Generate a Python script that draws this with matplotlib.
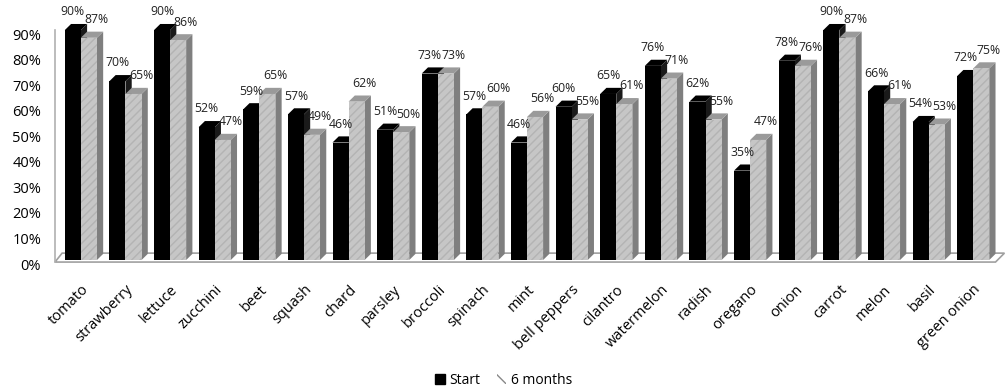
import matplotlib.pyplot as plt
import matplotlib.transforms as mtransforms
from matplotlib.patches import Polygon, Patch

plt.rcParams['font.family'] = ['Open Sans', 'DejaVu Sans']

crops = ['tomato', 'strawberry', 'lettuce', 'zucchini', 'beet', 'squash', 'chard',
         'parsley', 'broccoli', 'spinach', 'mint', 'bell peppers', 'cilantro',
         'watermelon', 'radish', 'oregano', 'onion', 'carrot', 'melon', 'basil',
         'green onion']
start = [90, 70, 90, 52, 59, 57, 46, 51, 73, 57, 46, 60, 65, 76, 62, 35, 78, 90, 66, 54, 72]
six_months = [87, 65, 86, 47, 65, 49, 62, 50, 73, 60, 56, 55, 61, 71, 55, 47, 76, 87, 61, 53, 75]
yticks = [0, 10, 20, 30, 40, 50, 60, 70, 80, 90]

fig = plt.figure(figsize=(10.07, 3.91), dpi=100)
ax = fig.add_axes([0.0546, 0.335, 0.934, 0.588])

w = 0.36
dx, dy = 0.14, 2.4
x = list(range(len(crops)))

styles = [
    dict(face='#000000', side='#1a1a1a', top='#000000', hatch=None, hc='#000000', lx=0.0),
    dict(face='#c6c6c6', side='#7f7f7f', top='#9a9a9a', hatch='////', hc='#b3b3b3', lx=0.17),
]

for i in x:
    for k, (vals, st) in enumerate([(start, styles[0]), (six_months, styles[1])]):
        z = 3 + i * 4 + k * 2
        xc = i - w / 2 + k * w
        h = vals[i]
        bar = ax.bar(xc, h, width=w, color=st['face'], edgecolor=st['hc'],
                     linewidth=0, hatch=st['hatch'], zorder=z + 1)[0]
        x0 = bar.get_x()
        x1 = x0 + bar.get_width()
        # side and top faces for the 3D look
        ax.add_patch(Polygon([(x1, 0), (x1 + dx, dy), (x1 + dx, h + dy), (x1, h)],
                             closed=True, facecolor=st['side'], edgecolor='none',
                             zorder=z, clip_on=False))
        ax.add_patch(Polygon([(x0, h), (x0 + dx, h + dy), (x1 + dx, h + dy), (x1, h)],
                             closed=True, facecolor=st['top'], edgecolor='none',
                             zorder=z, clip_on=False))
        ax.text((x0 + x1) / 2 + st['lx'], h + dy + 2.2, f'{h}%', ha='center', va='bottom',
                fontsize=8.8, color='#222222', zorder=100 + k, clip_on=False)

# floor and back wall
xl, xr = -0.58, 20.5
ax.set_xlim(xl, xr)
ax.add_patch(Polygon([(xl, -0.8), (xl + 0.16, 2.7), (xr + 0.2, 2.7), (xr, -0.8)],
                     closed=True, facecolor='white', edgecolor='#a0a0a0',
                     linewidth=1.2, zorder=1, clip_on=False))
ax.plot([xl, xl], [-0.8, 90], color='#b0b0b0', linewidth=1.2, zorder=1, clip_on=False)

ax.set_ylim(0, 90)
ax.set_yticks(yticks)
ax.set_yticklabels([f'{t}%' for t in yticks], fontsize=10.5)
ax.set_xticks(x)
ax.set_xticklabels(crops, rotation=45, ha='right', va='top', rotation_mode='anchor',
                   fontsize=10.5)
ax.tick_params(axis='x', length=0, pad=16)
ax.tick_params(axis='y', length=0, pad=10)
shift = mtransforms.ScaledTranslation(0, -4 / 100, fig.dpi_scale_trans)
for lab in ax.get_yticklabels():
    lab.set_transform(lab.get_transform() + shift)
for s in ax.spines.values():
    s.set_visible(False)

handles = [Patch(facecolor='#000000', edgecolor='#000000', label='Start'),
           Patch(facecolor='white', edgecolor='#888888', hatch='\\\\\\', linewidth=0,
                 label='6 months')]
fig.legend(handles=handles, loc='center', bbox_to_anchor=(0.5, 0.028), ncol=2,
           frameon=False, fontsize=10, handlelength=0.7, handleheight=0.7,
           handletextpad=0.3, columnspacing=1.2)

fig.savefig('out.png', dpi=100)
